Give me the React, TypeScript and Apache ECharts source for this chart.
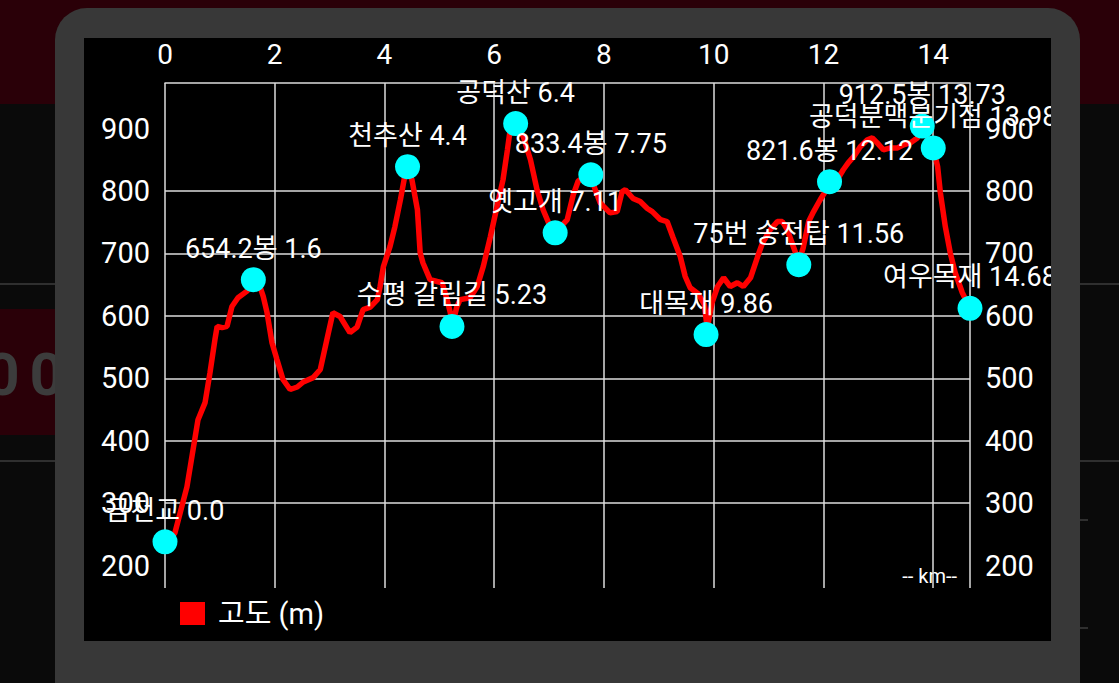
import React, { useEffect, useRef } from "react";
import * as echarts from "echarts";

// distance (km) / elevation (m) profile
const profile: [number, number][] = [
  [0, 238], [0.18, 252], [0.4, 326], [0.6, 433], [0.73, 461], [0.82, 509], [0.91, 562],
  [0.95, 583], [1.04, 581], [1.13, 583], [1.22, 615], [1.33, 629], [1.5, 640], [1.6, 654],
  [1.73, 647], [1.79, 631], [1.86, 605], [1.91, 578], [1.95, 557], [2.04, 530], [2.15, 498],
  [2.28, 482], [2.41, 486], [2.52, 494], [2.7, 501], [2.83, 514], [2.95, 562], [3.06, 605],
  [3.19, 599], [3.37, 573], [3.5, 582], [3.61, 610], [3.74, 614], [3.87, 626], [3.92, 647],
  [3.98, 679], [4.1, 711], [4.19, 743], [4.29, 786], [4.38, 829], [4.41, 839], [4.5, 818],
  [4.6, 770], [4.65, 701], [4.7, 685], [4.83, 658], [4.96, 655], [5.05, 653], [5.14, 626],
  [5.2, 605], [5.23, 583], [5.32, 615], [5.38, 626], [5.56, 629], [5.69, 647], [5.8, 679],
  [5.93, 727], [6.05, 775], [6.16, 818], [6.24, 866], [6.29, 898], [6.4, 908], [6.53, 887],
  [6.66, 850], [6.78, 802], [6.89, 770], [7.02, 743], [7.11, 733], [7.33, 754], [7.44, 794],
  [7.53, 816], [7.75, 826], [7.84, 802], [7.93, 781], [8.11, 765], [8.24, 767], [8.33, 799],
  [8.39, 802], [8.53, 788], [8.66, 783], [8.79, 772], [8.88, 767], [9.03, 754], [9.15, 751],
  [9.26, 725], [9.39, 695], [9.48, 663], [9.57, 645], [9.72, 635], [9.83, 618], [9.88, 580],
  [9.97, 621], [10.07, 647], [10.18, 661], [10.3, 647], [10.43, 653], [10.54, 647], [10.67, 661],
  [10.8, 695], [10.89, 717], [11.03, 738], [11.16, 751], [11.25, 751], [11.34, 738], [11.45, 711],
  [11.55, 687], [11.63, 709], [11.73, 751], [11.82, 767], [11.94, 786], [12.04, 800], [12.11, 813],
  [12.25, 818], [12.36, 834], [12.45, 845], [12.55, 855], [12.67, 871], [12.8, 882], [12.89, 885],
  [12.98, 877], [13.09, 866], [13.22, 869], [13.35, 869], [13.46, 874], [13.58, 877], [13.71, 885],
  [13.79, 902], [14.0, 869], [14.08, 839], [14.13, 797], [14.22, 743], [14.31, 701], [14.4, 669],
  [14.53, 637], [14.67, 612],
];

const wpNames = [
  "금천교 0.0", "654.2봉 1.6", "천추산 4.4", "수평 갈림길 5.23", "공덕산 6.4", "옛고개 7.11",
  "833.4봉 7.75", "대목재 9.86", "75번 송전탑 11.56", "821.6봉 12.12", "912.5봉 13.73",
  "공덕분맥분기점 13.98", "여우목재 14.68",
];
const wpKm = [0, 1.61, 4.42, 5.23, 6.39, 7.11, 7.76, 9.86, 11.55, 12.11, 13.8, 14.0, 14.67];
const wpElev = [238, 658, 839, 583, 908, 733, 826, 570, 682, 815, 904, 869, 612];

const yTicks = [200, 300, 400, 500, 600, 700, 800, 900];
const seriesName = "고도 (m)";
const xUnitText = "-- km--";

export default function App() {
  const ref = useRef<HTMLDivElement>(null);

  useEffect(() => {
    if (!ref.current) return;
    const chart = echarts.init(ref.current, null, { renderer: "svg" });
    const font = 'Roboto, "Noto Sans CJK KR", sans-serif';
    const gridColor = "#dcdcdc";
    chart.setOption({
      animation: false,
      backgroundColor: "#000000",
      grid: { left: 81, right: 81, top: 45, bottom: 53 },
      legend: {
        data: [seriesName],
        left: 96,
        top: 561,
        padding: 0,
        icon: "rect",
        itemWidth: 25,
        itemHeight: 23,
        textStyle: { color: "#ffffff", fontSize: 29, fontFamily: font, padding: [0, 0, 0, 8] },
      },
      xAxis: {
        type: "value",
        position: "top",
        min: 0,
        max: 14.67,
        interval: 2,
        axisLine: { show: true, lineStyle: { color: gridColor, width: 1.5 } },
        axisTick: { show: false },
        axisLabel: {
          color: "#ffffff",
          fontSize: 28,
          fontFamily: font,
          margin: 15,
          showMaxLabel: false,
        },
        splitLine: { show: true, lineStyle: { color: gridColor, width: 1.5 } },
      },
      yAxis: [
        {
          type: "value",
          position: "left",
          min: 164,
          max: 973,
          axisLine: { show: false },
          axisTick: { show: false, customValues: yTicks },
          axisLabel: {
            customValues: yTicks,
            color: "#ffffff",
            fontSize: 29,
            fontFamily: font,
            margin: 15,
          },
          splitLine: {
            show: true,
            showMinLine: false,
            showMaxLine: false,
            lineStyle: { color: gridColor, width: 1.5 },
          },
        },
        {
          type: "value",
          position: "right",
          min: 164,
          max: 973,
          axisLine: { show: false },
          axisTick: { show: false, customValues: yTicks },
          axisLabel: {
            customValues: yTicks,
            color: "#ffffff",
            fontSize: 29,
            fontFamily: font,
            margin: 15,
          },
          splitLine: { show: false },
        },
      ],
      graphic: [
        {
          type: "text",
          right: 94,
          top: 528,
          style: { text: xUnitText, fill: "#ffffff", fontSize: 20, fontFamily: font },
        },
      ],
      series: [
        {
          name: seriesName,
          type: "line",
          data: profile,
          showSymbol: false,
          symbol: "none",
          lineStyle: { color: "#ff0000", width: 5.5 },
          itemStyle: { color: "#ff0000" },
          z: 2,
        },
        {
          name: "waypoints",
          type: "scatter",
          data: wpNames.map((n, i) => ({ name: n, value: [wpKm[i], wpElev[i]] })),
          symbolSize: 25,
          itemStyle: { color: "#00ffff", opacity: 1 },
          label: {
            show: true,
            position: "top",
            distance: 5,
            formatter: "{b}",
            color: "#ffffff",
            fontSize: 27,
            fontFamily: font,
          },
          z: 3,
        },
      ],
    });
    return () => chart.dispose();
  }, []);

  const line = (top: number, left: number, width: number): React.CSSProperties => ({
    position: "absolute",
    top,
    left,
    width,
    height: 2,
    background: "#2f2f2f",
  });

  return (
    <div
      style={{
        position: "fixed",
        left: 0,
        top: 0,
        width: 1119,
        height: 683,
        background: "#0a0a0a",
        overflow: "hidden",
        fontFamily: "Roboto, sans-serif",
      }}
    >
      <div style={{ position: "absolute", left: 0, top: 0, width: 1119, height: 104, background: "#2a0008" }} />
      <div style={line(283, 0, 60)} />
      <div style={line(460, 0, 60)} />
      <div
        style={{
          position: "absolute",
          left: 0,
          top: 309,
          width: 60,
          height: 126,
          background: "#2a0008",
          overflow: "hidden",
        }}
      >
        <span
          style={{
            position: "absolute",
            right: -14,
            top: 30,
            fontSize: 60,
            fontWeight: 700,
            letterSpacing: 10,
            color: "#3c3c3c",
            whiteSpace: "nowrap",
          }}
        >
          00
        </span>
      </div>
      <div style={line(283, 1075, 44)} />
      <div style={line(460, 1075, 44)} />
      <div style={{ position: "absolute", left: 1080, top: 519, width: 8, height: 2, background: "#2f2f2f" }} />
      <div style={{ position: "absolute", left: 1080, top: 627, width: 8, height: 2, background: "#2f2f2f" }} />
      <div
        style={{
          position: "absolute",
          left: 55,
          top: 8,
          width: 1025,
          height: 720,
          background: "#383838",
          borderRadius: 32,
        }}
      />
      <div
        style={{
          position: "absolute",
          left: 84,
          top: 38,
          width: 967,
          height: 603,
          background: "#000000",
          overflow: "hidden",
        }}
      >
        <div ref={ref} style={{ width: 967, height: 603 }} />
      </div>
    </div>
  );
}
